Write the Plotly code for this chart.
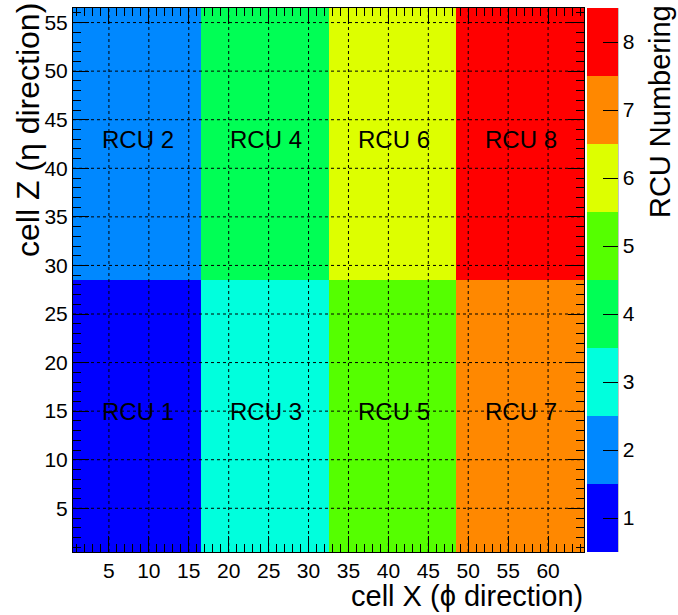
import numpy as np
import plotly.graph_objects as go

# Cell index ranges of the detector
cell_x = list(range(1, 65))   # phi direction
cell_z = list(range(1, 57))   # eta direction

# Readout-control-unit blocks: column ranges in X, row ranges in Z
x_blocks = [(1, 16), (17, 32), (33, 48), (49, 64)]
z_halves = [(1, 28), (29, 56)]
# RCU number per (z half, x block)
rcu_grid = [[1, 3, 5, 7],
            [2, 4, 6, 8]]

rcu_labels = ["RCU 1", "RCU 2", "RCU 3", "RCU 4", "RCU 5", "RCU 6", "RCU 7", "RCU 8"]
rcu_numbers = [1, 2, 3, 4, 5, 6, 7, 8]
rcu_colors = ["#0000ff", "#0088ff", "#00ffdd", "#00ff55",
              "#55ff00", "#ddff00", "#ff8800", "#ff0000"]

major_ticks_x = list(range(5, 65, 5))
major_ticks_z = list(range(5, 57, 5))

# Fill the cell map with the RCU number of each block
z = np.zeros((len(cell_z), len(cell_x)))
for j, (z0, z1) in enumerate(z_halves):
    for i, (x0, x1) in enumerate(x_blocks):
        z[z0 - 1:z1, x0 - 1:x1] = rcu_grid[j][i]

# Stepped colour scale, one band per RCU
n = len(rcu_colors)
colorscale = []
for k, c in enumerate(rcu_colors):
    colorscale.append([k / n, c])
    colorscale.append([(k + 1) / n, c])

FONT = "Liberation Sans, Arial, Helvetica, sans-serif"

PLOT_W = 511
CB_X = 1.0059
CB_THICK = 31

fig = go.Figure()
fig.add_trace(go.Heatmap(
    x=cell_x, y=cell_z, z=z,
    zmin=0.5, zmax=8.5,
    colorscale=colorscale,
    hoverinfo="skip",
    colorbar=dict(
        x=CB_X, xanchor="left", xpad=0,
        y=0.5, yanchor="middle", ypad=0, len=1,
        thickness=CB_THICK,
        outlinewidth=0,
        tickmode="array", tickvals=rcu_numbers,
        ticks="inside", ticklen=15, tickcolor="black", tickwidth=1,
        tickfont=dict(family=FONT, size=21, color="black"),
    ),
))

# Thin grey edge on the right side of the colour bar
cb_right = CB_X + CB_THICK / PLOT_W
fig.add_shape(type="line", xref="paper", yref="paper", x0=cb_right, x1=cb_right,
              y0=0, y1=1, line=dict(color="#888888", width=1), layer="above")

# Dotted grid drawn on top of the cells
for v in major_ticks_x:
    fig.add_shape(type="line", x0=v, x1=v, y0=0.5, y1=56.5, xref="x", yref="y",
                  line=dict(color="black", width=1, dash="dot"), layer="above")
for v in major_ticks_z:
    fig.add_shape(type="line", x0=0.5, x1=64.5, y0=v, y1=v, xref="x", yref="y",
                  line=dict(color="black", width=1, dash="dot"), layer="above")

# Block labels at the centre of each block
for j, (z0, z1) in enumerate(z_halves):
    for i, (x0, x1) in enumerate(x_blocks):
        r = rcu_grid[j][i]
        fig.add_annotation(x=(x0 + x1) / 2 + 0.15, y=(z0 + z1) / 2 + 0.5, xref="x", yref="y",
                           text=rcu_labels[r - 1], showarrow=False,
                           font=dict(family=FONT, size=24, color="black"))

# Axis titles, right/top aligned
fig.add_annotation(text="cell X (\u03d5 direction)", xref="paper", yref="paper",
                   x=1.002, y=-0.1140, xanchor="right", yanchor="bottom", showarrow=False,
                   font=dict(family=FONT, size=29, color="black"))
fig.add_annotation(text="cell Z (\u03b7 direction)", xref="paper", yref="paper",
                   x=-0.087, y=1.012, xanchor="center", yanchor="top", textangle=-90,
                   showarrow=False, font=dict(family=FONT, size=32, color="black"))
fig.add_annotation(text="RCU Numbering", xref="paper", yref="paper",
                   x=1.1487, y=1.01, xanchor="center", yanchor="top", textangle=-90,
                   showarrow=False, font=dict(family=FONT, size=29, color="black"))

axis_common = dict(
    showgrid=False, zeroline=False,
    showline=True, linecolor="black", linewidth=1, mirror="ticks",
    layer="above traces",
    ticks="inside", ticklen=16, tickcolor="black", tickwidth=1,
    tickfont=dict(family=FONT, size=21, color="black"),
    minor=dict(ticks="inside", ticklen=8, dtick=1, tick0=0, tickcolor="black", tickwidth=1),
)

fig.update_xaxes(range=[0.5, 64.5], tickmode="array", tickvals=major_ticks_x, **axis_common)
fig.update_yaxes(range=[0.5, 56.5], tickmode="array", tickvals=major_ticks_z, **axis_common)

fig.update_layout(
    width=678, height=615,
    margin=dict(l=73, r=94, t=8, b=63),
    paper_bgcolor="white", plot_bgcolor="white",
    showlegend=False,
    font=dict(family=FONT, color="black"),
)

fig.write_html("out.html")
